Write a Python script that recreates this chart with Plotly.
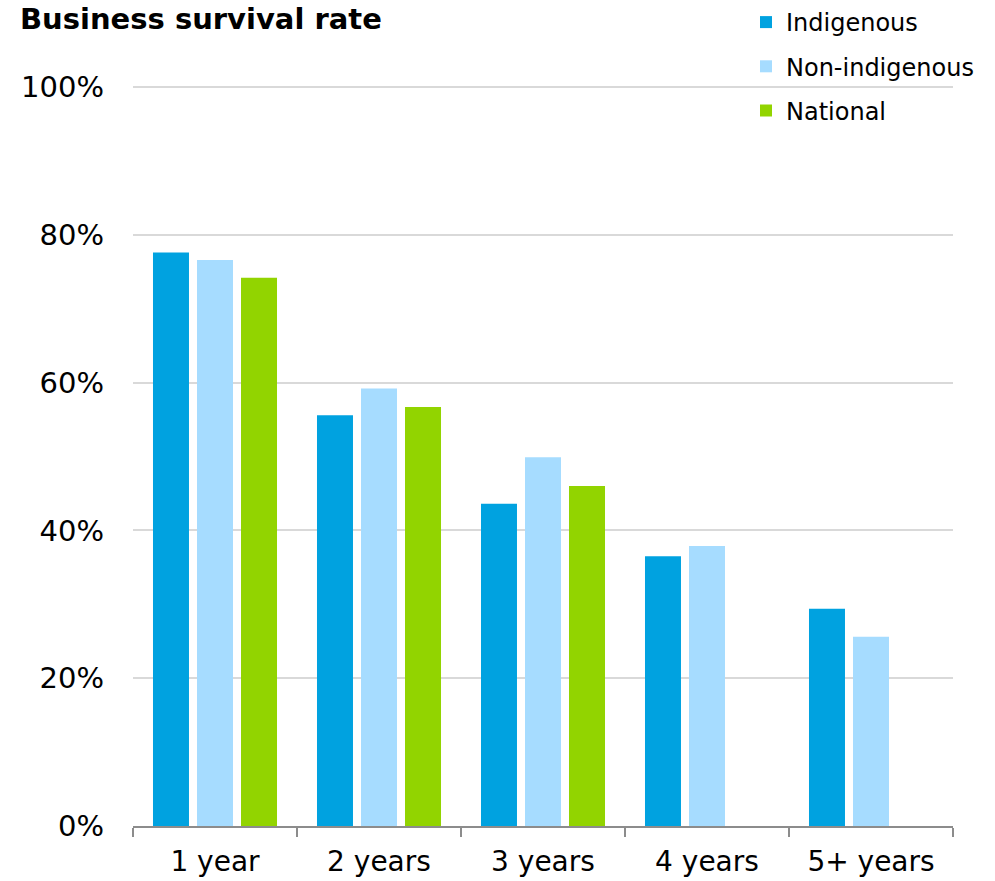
import plotly.graph_objects as go

categories = ["1 year", "2 years", "3 years", "4 years", "5+ years"]
indigenous = [77.6, 55.6, 43.6, 36.5, 29.4]
non_indigenous = [76.6, 59.2, 49.9, 37.9, 25.6]
national = [74.2, 56.7, 46.0, None, None]
y_ticks = [0, 20, 40, 60, 80, 100]
y_tick_labels = ["0%", "20%", "40%", "60%", "80%", "100%"]

series = [
    ("Indigenous", indigenous, "#00A2E0"),
    ("Non-indigenous", non_indigenous, "#A6DCFF"),
    ("National", national, "#92D400"),
]

FONT = "DejaVu Sans"
fig = go.Figure()
for i, (name, vals, color) in enumerate(series):
    fig.add_trace(go.Bar(
        x=categories, y=vals, name=name,
        marker=dict(color=color, line=dict(width=0)),
        legendgroup=f"g{i}",
    ))

fig.update_layout(
    width=995, height=881,
    margin=dict(l=133, r=42, t=86, b=55, autoexpand=False),
    paper_bgcolor="white", plot_bgcolor="white",
    barmode="group", bargap=0.195, bargroupgap=0.182,
    font=dict(family=FONT, color="#000000"),
    title=dict(text="<b>Business survival rate</b>", x=20/995, xanchor="left",
               xref="container", y=1 - 9/881, yref="container", yanchor="top",
               font=dict(size=29, family=FONT, color="#000000")),
    legend=dict(x=746/995, xref="container", xanchor="left", y=1 + 6/881, yref="container", yanchor="top",
                font=dict(size=24, family=FONT), traceorder="grouped", tracegroupgap=10,
                itemwidth=30, bgcolor="rgba(0,0,0,0)"),
    showlegend=True,
)

fig.update_yaxes(
    range=[0, 100.15], tickvals=y_ticks, ticktext=y_tick_labels,
    showgrid=True, gridcolor="#D9D9D9", gridwidth=2,
    zeroline=False, showline=False, ticks="",
    tickfont=dict(size=29, family=FONT, color="#000000"),
    ticklabelstandoff=28,
)
fig.update_xaxes(
    type="category", tickson="boundaries", ticks="outside", ticklen=9,
    tickwidth=2, tickcolor="#8C8C8C", tickangle=0,
    showline=True, linecolor="#8C8C8C", linewidth=2,
    showgrid=False,
    tickfont=dict(size=28, family=FONT, color="#000000"),
    ticklabelstandoff=9,
)

fig.write_html("out.html")
